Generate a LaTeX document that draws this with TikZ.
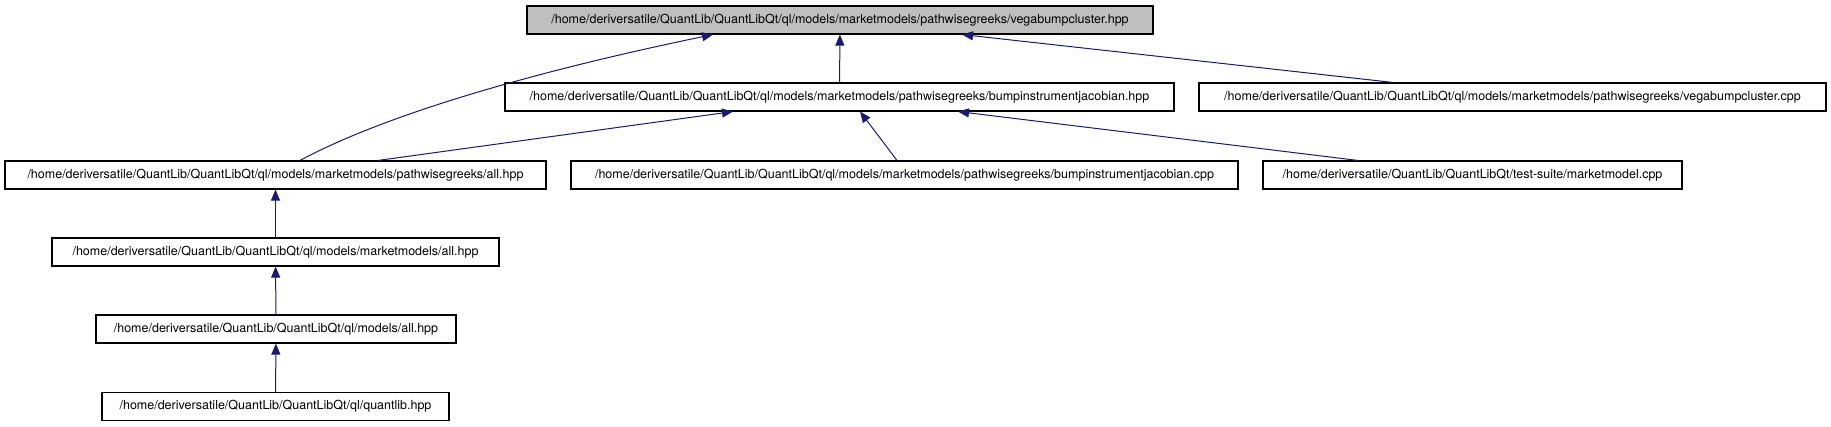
\documentclass[tikz,border=0pt]{standalone}
\usepackage{fontspec}
\setmainfont{TeX Gyre Heros}
\usetikzlibrary{arrows.meta}
\definecolor{edgeblue}{HTML}{191970}
\definecolor{curgray}{HTML}{BFBFBF}
\tikzset{
  file/.style={draw, line width=1.1pt, inner sep=0pt, minimum height=28pt, font=\fontsize{12.5}{15}\selectfont},
  cur/.style={file, fill=curgray},
  dep/.style={edgeblue, line width=1pt, >={Triangle[length=11pt, width=9pt]}, ->}
}
\newcommand{\qlpath}{/home/deriversatile/QuantLib/QuantLibQt/}

\begin{document}
\begin{tikzpicture}[x=1pt, y=-1pt]
		\useasboundingbox (0,0) rectangle (1831,427);
		\node[cur, minimum width=626pt] (vbc) at (840,20) {\qlpath ql/models/marketmodels/pathwisegreeks/vegabumpcluster.hpp};
		\node[file, minimum width=669pt] (bji) at (839.5,97) {\qlpath ql/models/marketmodels/pathwisegreeks/bumpinstrumentjacobian.hpp};
		\node[file, minimum width=627pt] (vbccpp) at (1512.5,97) {\qlpath ql/models/marketmodels/pathwisegreeks/vegabumpcluster.cpp};
		\node[file, minimum width=541pt] (pwall) at (275.5,175) {\qlpath ql/models/marketmodels/pathwisegreeks/all.hpp};
		\node[file, minimum width=667pt] (bjicpp) at (904.5,175) {\qlpath ql/models/marketmodels/pathwisegreeks/bumpinstrumentjacobian.cpp};
		\node[file, minimum width=419pt] (mmcpp) at (1472.5,175) {\qlpath test-suite/marketmodel.cpp};
		\node[file, minimum width=447pt] (mmall) at (275.5,252) {\qlpath ql/models/marketmodels/all.hpp};
		\node[file, minimum width=360pt] (modall) at (276,329) {\qlpath ql/models/all.hpp};
		\node[file, minimum width=347pt] (qlib) at (275.5,406.5) {\qlpath ql/quantlib.hpp};
		\draw[dep] ([xshift=24.5pt]pwall.north) .. controls +(80,-43) and +(-193,40) .. ([xshift=-127pt]vbc.south);
		\draw[dep] (bji) -- (vbc);
		\draw[dep] ([xshift=-119.5pt]vbccpp.north) -- ([xshift=122pt]vbc.south);
		\draw[dep] ([xshift=102.5pt]pwall.north) -- ([xshift=-106.5pt]bji.south);
		\draw[dep] ([xshift=-7.5pt]bjicpp.north) -- ([xshift=20.5pt]bji.south);
		\draw[dep] ([xshift=-114.5pt]mmcpp.north) -- ([xshift=118.5pt]bji.south);
		\draw[dep] (mmall) -- (pwall);
		\draw[dep] (modall) -- (mmall);
		\draw[dep] (qlib) -- (modall);
	\end{tikzpicture}
\end{document}
